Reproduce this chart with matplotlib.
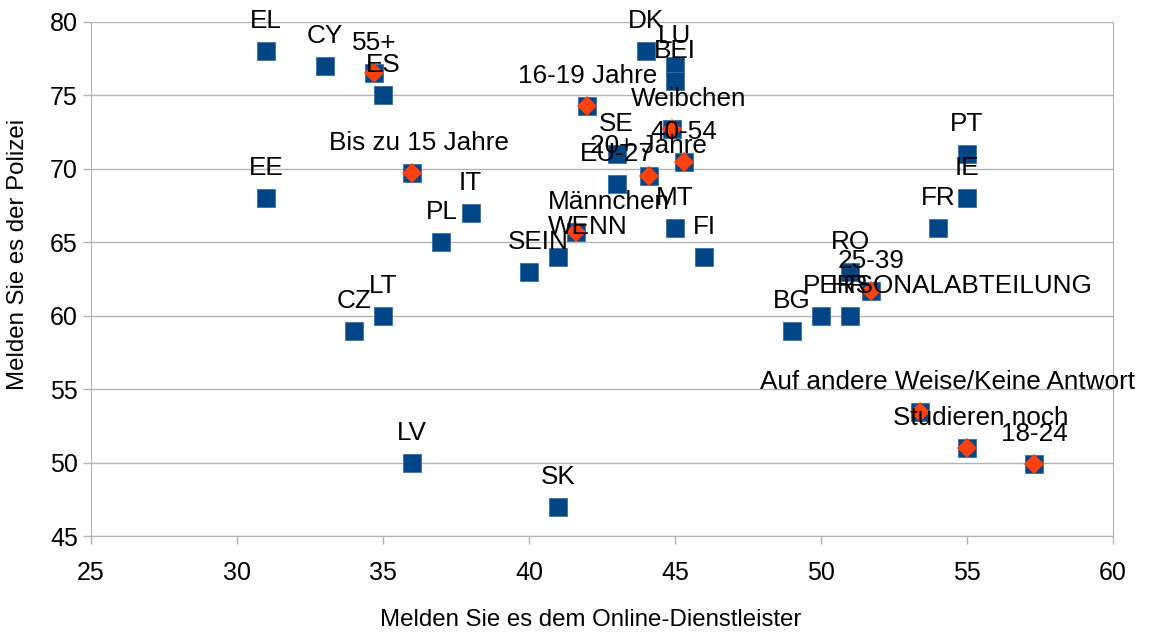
import matplotlib
matplotlib.use("Agg")
import matplotlib.pyplot as plt

plt.rcParams["font.family"] = ["Liberation Sans", "DejaVu Sans"]

# Countries (blue squares)
countries = ["EL", "CY", "ES", "EE", "CZ", "LT", "LV", "PL", "IT", "SEIN", "WENN",
             "SK", "DK", "LU", "BEI", "SE", "EU-27", "MT", "FI", "BG",
             "PERSONALABTEILUNG", "HR", "RO", "FR", "PT", "IE"]
country_x = [31, 33, 35, 31, 34, 35, 36, 37, 38, 40, 41,
             41, 44, 45, 45, 43, 43, 45, 46, 49,
             50, 51, 51, 54, 55, 55]
country_y = [78, 77, 75, 68, 59, 60, 50, 65, 67, 63, 64,
             47, 78, 77, 76, 71, 69, 66, 64, 59,
             60, 60, 63, 66, 71, 68]

# Socio-demographic groups (orange diamonds)
groups = ["55+", "Bis zu 15 Jahre", "16-19 Jahre", "Weibchen", "40-54", "20+ Jahre",
          "Männchen", "25-39", "Auf andere Weise/Keine Antwort", "Studieren noch", "18-24"]
group_x = [34.7, 36.0, 42.0, 44.9, 45.3, 44.1, 41.6, 51.7, 53.4, 55.0, 57.3]
group_y = [76.5, 69.7, 74.3, 72.7, 70.5, 69.5, 65.7, 61.7, 53.5, 51.0, 49.9]

# label shifts in pixels where the label is not centred over its point
shift = {"WENN": 30, "SEIN": 9, "PERSONALABTEILUNG": 127, "Weibchen": 17,
         "Männchen": 33, "Auf andere Weise/Keine Antwort": 27,
         "Studieren noch": 14, "Bis zu 15 Jahre": 7}

blue = "#004586"
orange = "#ff420e"
grid = "#b3b3b3"

fig = plt.figure(figsize=(11.53, 6.34), dpi=100)
ax = fig.add_axes([0.0789, 0.1538, 0.8864, 0.8115])

ax.plot(country_x, country_y, "s", color=blue, ms=13.5, mec="#3d6fa3", mew=0.6, zorder=3)
ax.plot(group_x, group_y, "s", color=blue, ms=13.5, mec="#3d6fa3", mew=0.6, zorder=3)
ax.plot(group_x, group_y, "D", color=orange, ms=10, mew=0, zorder=4)

for names, xs, ys in [(countries, country_x, country_y), (groups, group_x, group_y)]:
    for n, x, y in zip(names, xs, ys):
        ax.annotate(n, (x, y), xytext=(shift.get(n, 0), 23), textcoords="offset pixels",
                    ha="center", va="baseline", fontsize=18.8, zorder=5,
                    annotation_clip=False)

ax.set_xlim(25, 60)
ax.set_ylim(45, 80)
ax.set_xticks(range(25, 61, 5))
ax.set_yticks(range(45, 81, 5))
ax.yaxis.grid(True, color=grid, lw=1)
ax.set_axisbelow(True)
for s in ax.spines.values():
    s.set_color(grid)
ax.spines["top"].set_visible(False)
ax.tick_params(colors=grid, labelcolor="black", labelsize=18, length=6, width=1)
ax.tick_params(axis="x", pad=12)

ax.set_xlabel("Melden Sie es dem Online-Dienstleister", fontsize=17.3, va="center")
ax.set_ylabel("Melden Sie es der Polizei", fontsize=17.3, va="center")
ax.xaxis.set_label_coords(0.489, -0.162)
ax.yaxis.set_label_coords(-0.0714, 0.548)

fig.savefig("out.png", dpi=100)
